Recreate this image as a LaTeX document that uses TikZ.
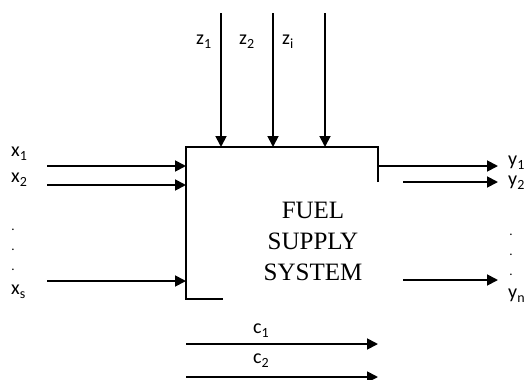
\documentclass[tikz,border=0pt]{standalone}
\usepackage{fontspec}
\setmainfont{Carlito}
\newfontfamily\serifsys{Liberation Serif}
\usetikzlibrary{arrows.meta}
\tikzset{
  flow/.style={line width=1.8pt,-{Triangle[length=11pt,width=11pt]}},
  boxline/.style={line width=1.3pt},
  lbl/.style={font=\fontsize{20}{22}\selectfont,inner sep=0pt},
  dotlbl/.style={font=\fontsize{13}{14}\selectfont,inner sep=0pt},
}
\newcommand{\sub}[1]{\raisebox{-0.2em}{\fontsize{14}{16}\selectfont #1}}
\begin{document}
\begin{tikzpicture}[x=1pt,y=-1pt]
\useasboundingbox (0,0) rectangle (528,380);
% box outline (partially hidden)
\coordinate (bTL) at (186,147);
\coordinate (bTR) at (378,147);
\draw[boxline] (378,182) -- (bTR) -- (bTL) -- (186,299) -- (223,299);
\node[font=\serifsys\fontsize{25}{31}\selectfont,align=center,inner sep=0pt] (sys) at (313,241) {FUEL\\SUPPLY\\SYSTEM};
% z inputs
\foreach \n/\xx in {1/221,2/273,3/325}{
  \coordinate (zs\n) at (\xx,13);
  \coordinate (ze\n) at (\xx,147);
  \draw[flow] (zs\n) -- (ze\n);
}
\node[lbl,anchor=west] (z1) at (196,42) {z\sub{1}};
\node[lbl,anchor=west] (z2) at (239,42) {z\sub{2}};
\node[lbl,anchor=west] (zi) at (282,42) {z\sub{i}};
% x inputs
\foreach \n/\yy in {1/166,2/185,3/281}{
  \coordinate (xs\n) at (47,\yy);
  \coordinate (xe\n) at (186,\yy);
  \draw[flow] (xs\n) -- (xe\n);
}
\node[lbl,anchor=west] (x1) at (11,154) {x\sub{1}};
\node[lbl,anchor=west] (x2) at (11,180) {x\sub{2}};
\node[dotlbl] (xd1) at (13,230) {.};
\node[dotlbl] (xd2) at (13,250) {.};
\node[dotlbl] (xd3) at (13,270) {.};
\node[lbl,anchor=west] (xs) at (11,292) {x\sub{s}};
% y outputs
\coordinate (ys1) at (378,166); \coordinate (ye1) at (498,166);
\coordinate (ys2) at (403,182); \coordinate (ye2) at (498,182);
\coordinate (ys3) at (403,280); \coordinate (ye3) at (498,280);
\draw[flow] (ys1) -- (ye1);
\draw[flow] (ys2) -- (ye2);
\draw[flow] (ys3) -- (ye3);
\node[lbl,anchor=west] (y1) at (508,163) {y\sub{1}};
\node[lbl,anchor=west] (y2) at (508,183) {y\sub{2}};
\node[dotlbl] (yd1) at (511,235) {.};
\node[dotlbl] (yd2) at (511,255) {.};
\node[dotlbl] (yd3) at (511,275) {.};
\node[lbl,anchor=west] (yn) at (508,296) {y\sub{n}};
% c arrows
\coordinate (cs1) at (186,344); \coordinate (ce1) at (378,344);
\coordinate (cs2) at (186,377); \coordinate (ce2) at (378,377);
\draw[flow] (cs1) -- (ce1);
\draw[flow] (cs2) -- (ce2);
\node[lbl,anchor=west] (c1) at (253,331) {c\sub{1}};
\node[lbl,anchor=west] (c2) at (253,361) {c\sub{2}};
\end{tikzpicture}
\end{document}
